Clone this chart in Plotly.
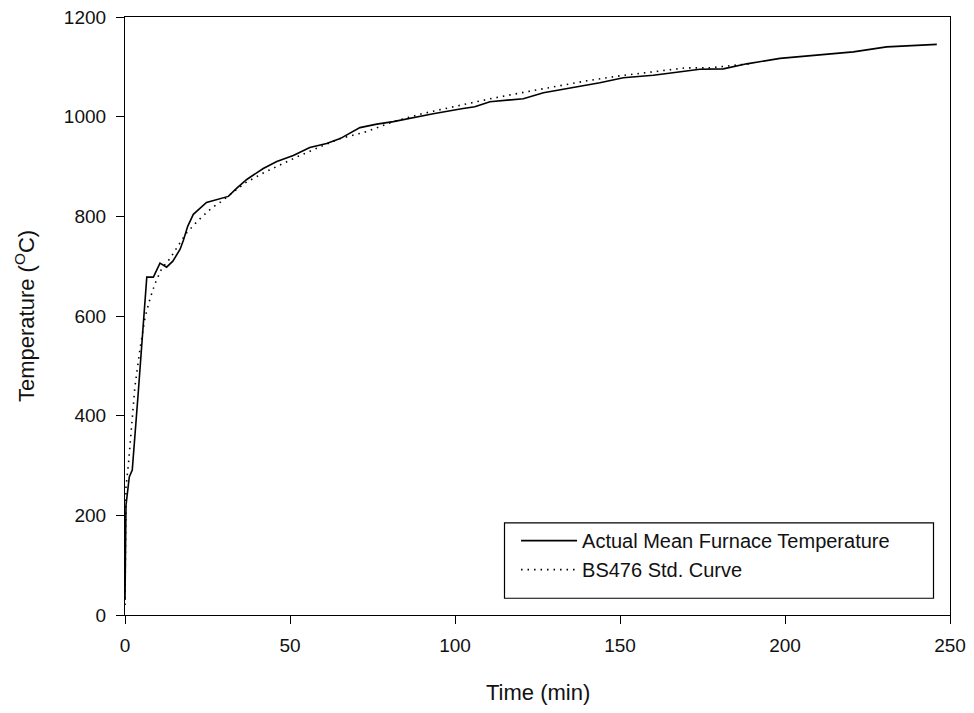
import plotly.graph_objects as go

# Actual mean furnace temperature
actual_time = [0, 0.3, 1.3, 2.2, 4.0, 5.5, 6.6, 8.6, 10.6, 12.6, 14.5, 16.7, 17.7, 19.0, 20.7,
               24.7, 28.3, 31.3, 33.8, 36.9, 41.9, 46, 51, 56, 61.1, 65.2, 71.2, 76.3, 81.3,
               89.4, 93.4, 102, 106, 110.6, 115.7, 120.7, 126.8, 135.8, 143.9, 151, 160.1,
               167.2, 174.2, 181.3, 188.4, 198.5, 208.6, 220.7, 230.8, 238.9, 246]
actual_temp = [30, 220, 277, 291, 445, 592, 678, 678, 706, 698, 710, 734, 752, 780, 804,
               828, 834, 840, 856, 874, 896, 910, 922, 938, 946, 956, 978, 985, 990,
               1001, 1006, 1016, 1020, 1030, 1033, 1036, 1048, 1058, 1068, 1078, 1083,
               1089, 1095, 1096, 1106, 1117, 1123, 1130, 1140, 1143, 1145]

# BS476 standard curve
bs_time = [0, 0.3, 1.0, 2.0, 3.0, 4.5, 6.1, 7.6, 9.1, 11.1, 13.6, 16.2, 18.7, 22.2, 26.3,
           28.6, 32, 36.4, 41.9, 48, 52, 60, 65.2, 73.2, 81.3, 90, 100, 110, 121.7, 130,
           140, 150, 160, 170, 177, 189]
bs_temp = [20, 257, 300, 380, 458, 532, 598, 635, 665, 695, 715, 742, 767, 792, 817,
           827, 845, 867, 887, 906, 919, 942, 956, 970, 990, 1006, 1021, 1035, 1050, 1060,
           1072, 1082, 1090, 1098, 1098, 1106]

x_ticks = [0, 50, 100, 150, 200, 250]
y_ticks = [0, 200, 400, 600, 800, 1000, 1200]

x_title = "Time (min)"
y_title = "Temperature (<sup>O</sup>C)"

FONT = "Liberation Sans, Arial, sans-serif"

fig = go.Figure()
fig.add_trace(go.Scatter(x=actual_time, y=actual_temp, mode="lines",
                         name="Actual Mean Furnace Temperature",
                         line=dict(color="black", width=1.6)))
fig.add_trace(go.Scatter(x=bs_time, y=bs_temp, mode="lines",
                         name="BS476 Std. Curve",
                         line=dict(color="black", width=1.6, dash="1.5px,5px")))

axis_common = dict(showgrid=False, zeroline=False, showline=True, linecolor="black",
                   linewidth=1.2, mirror=True, ticks="outside", ticklen=8, tickwidth=1.2,
                   tickcolor="black", automargin=False, ticklabeloverflow="allow",
                   tickfont=dict(family=FONT, size=19, color="#111"))

fig.update_xaxes(range=[0, 250], tickvals=x_ticks, ticklabelstandoff=5, **axis_common)
fig.update_yaxes(range=[0, 1200], tickvals=y_ticks, ticklabelstandoff=6, **axis_common)

# axis titles
fig.add_annotation(text=x_title, xref="paper", yref="paper", x=0.5, y=0,
                   xanchor="center", yanchor="middle", yshift=-77, showarrow=False,
                   font=dict(family=FONT, size=22, color="#111"))
fig.add_annotation(text=y_title, xref="paper", yref="paper", x=0, y=0.5,
                   xanchor="center", yanchor="middle", xshift=-100, textangle=-90,
                   showarrow=False, font=dict(family=FONT, size=22, color="#111"))

# legend frame
fig.add_shape(type="rect", xref="paper", yref="paper",
              x0=0.460, x1=0.98, y0=0.028, y1=0.154,
              line=dict(color="black", width=1.2), fillcolor="rgba(0,0,0,0)")

fig.update_layout(
    width=958, height=697, autosize=False,
    margin=dict(l=117, r=16, t=9, b=90),
    plot_bgcolor="white", paper_bgcolor="white",
    legend=dict(x=0.474, y=0.157, xanchor="left", yanchor="top",
                bgcolor="rgba(0,0,0,0)", borderwidth=0,
                font=dict(family=FONT, size=20, color="#111"),
                tracegroupgap=0, itemwidth=56),
    showlegend=True,
)

fig.write_html("out.html")
